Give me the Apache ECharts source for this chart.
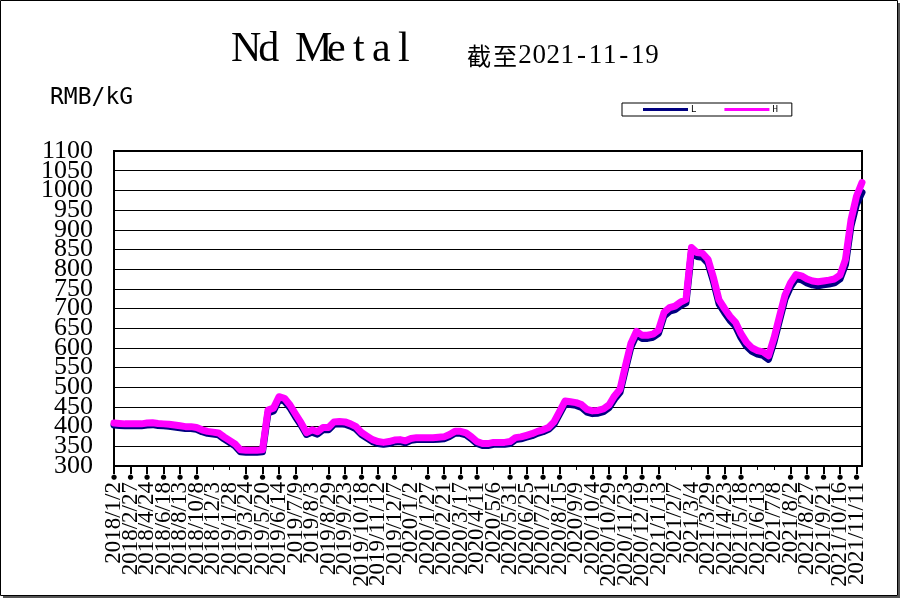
<!DOCTYPE html>
<html><head><meta charset="utf-8">
<script src="https://cdn.jsdelivr.net/npm/echarts@6/dist/echarts.min.js"></script>
<style>html,body{margin:0;padding:0;background:#fff}#c{width:901px;height:599px}</style>
</head><body><div id="c"></div>
<script>
const categories = [
'2018/1/2','2018/1/21','2018/2/8','2018/2/27','2018/3/17','2018/4/5','2018/4/24','2018/5/12','2018/5/31','2018/6/18',
'2018/7/7','2018/7/26','2018/8/13','2018/9/1','2018/9/19','2018/10/8','2018/10/27','2018/11/14','2018/12/3','2018/12/21',
'2019/1/9','2019/1/28','2019/2/15','2019/3/6','2019/3/24','2019/4/12','2019/5/6',
'2019/5/20','2019/5/28','2019/6/6','2019/6/14','2019/6/23','2019/7/1','2019/7/9','2019/7/18','2019/7/26','2019/8/3',
'2019/8/12','2019/8/20','2019/8/29','2019/9/6','2019/9/14','2019/9/23','2019/10/1','2019/10/10','2019/10/18','2019/10/26',
'2019/11/4','2019/11/12','2019/11/20','2019/11/29','2019/12/7','2019/12/16','2019/12/24','2020/1/2','2020/1/10','2020/1/18',
'2020/1/27','2020/2/4','2020/2/12','2020/2/21','2020/2/29','2020/3/8','2020/3/17','2020/3/25','2020/4/3','2020/4/11',
'2020/4/19','2020/4/28','2020/5/6','2020/5/15','2020/5/23','2020/5/31','2020/6/9','2020/6/17','2020/6/25','2020/7/4',
'2020/7/12','2020/7/21','2020/7/29','2020/8/6','2020/8/15','2020/8/23','2020/9/1','2020/9/9','2020/9/17','2020/9/26',
'2020/10/4','2020/10/12','2020/10/21','2020/10/29','2020/11/7','2020/11/15','2020/11/23','2020/12/2','2020/12/10','2020/12/19',
'2020/12/27','2021/1/4','2021/1/13','2021/1/21','2021/1/29','2021/2/7','2021/2/15','2021/2/24','2021/3/4','2021/3/12',
'2021/3/21','2021/3/29','2021/4/7','2021/4/15','2021/4/23','2021/5/2','2021/5/10','2021/5/18','2021/5/27','2021/6/4',
'2021/6/13','2021/6/21','2021/6/29','2021/7/8','2021/7/16','2021/7/25','2021/8/2','2021/8/10','2021/8/19','2021/8/27',
'2021/9/5','2021/9/13','2021/9/21','2021/9/30','2021/10/8','2021/10/16','2021/10/25','2021/11/2','2021/11/11','2021/11/19'
];
const seriesH = [
409,408,407,407,407,407,409,410,408,407,
406,404,402,400,400,398,392,388,386,384,
374,365,356,341,340,340,340,341,442,447,
476,472,455,432,410,385,392,387,398,398,
412,413,412,407,400,385,376,367,362,360,
362,366,367,364,370,372,372,372,372,373,
374,380,388,388,384,374,362,357,357,360,
360,360,362,372,374,378,382,388,392,398,
412,438,465,463,461,456,444,440,441,445,
455,478,495,555,612,642,632,632,635,645,
690,702,706,716,723,855,842,840,825,778,
722,700,680,665,636,614,600,593,590,580,
625,680,734,765,786,783,775,770,768,770,
772,775,785,825,925,985,1020
];
const seriesL = [
404,403,402,402,402,402,404,405,403,402,
401,399,397,395,395,393,387,383,381,379,
369,360,351,336,335,335,335,336,435,440,
469,465,448,425,404,380,386,381,392,392,
406,407,406,401,394,380,371,362,357,355,
357,361,362,359,365,367,367,367,367,368,
369,375,383,383,379,369,357,352,352,355,
355,355,357,367,369,373,377,383,387,393,
406,432,458,456,454,449,437,433,434,438,
448,470,487,546,603,633,624,624,627,637,
681,693,697,707,714,845,832,830,815,768,
712,690,670,655,626,604,591,584,581,571,
615,670,724,755,776,773,765,760,758,760,
762,765,775,812,910,965,995
];
const seriesNames = ['L', 'H'];
const yTickLabels = ['300','350','400','450','500','550','600','650','700','750','800','850','900','950','1000','1050','1100'];
const titleText = 'Nd Metal';
const subPrefix = '截至';
const subDate = '2021-11-19';
const unitText = 'RMB/kG';
const yMin = 300, yMax = 1100, yStep = 50;
const tickEvery = 3;
const shortTickIdx = [18,21,36,54,69,84,102,105,117,120];

const isTick = i => i % tickEvery === 0;
const isLong = i => isTick(i) && shortTickIdx.indexOf(i) < 0;
const isShort = i => isTick(i) && shortTickIdx.indexOf(i) >= 0;
const monoRich = (s, key) => s.split('').map(ch => '{' + key + '|' + ch + '}').join('');

const chart = echarts.init(document.getElementById('c'), null, {renderer:'canvas'});
chart.setOption({
  animation: false,
  backgroundColor: '#fff',
  title: [
    {text: monoRich(titleText, 'm'), left: 235, top: 29, padding: 0,
     textStyle: {fontWeight: 'normal', rich: {m: {fontFamily: 'Liberation Serif', fontWeight: 'normal', fontSize: 42, width: 22.5, align: 'center', color: '#000'}}}},
    {text: monoRich(subPrefix, 'c') + monoRich(subDate, 'n'), left: 466, top: 42, padding: 0,
     textStyle: {fontWeight: 'normal', rich: {
       c: {fontFamily: '"Noto Sans CJK JP"', fontWeight: 'normal', fontSize: 24, width: 26, align: 'center', verticalAlign: 'middle', color: '#000'},
       n: {fontFamily: 'Liberation Serif', fontWeight: 'normal', fontSize: 27, width: 14.1, align: 'center', verticalAlign: 'middle', color: '#000'}}}},
    {text: unitText, left: 50, top: 87, padding: 0,
     textStyle: {fontFamily: 'DejaVu Sans Mono', fontSize: 23, fontWeight: 'normal', color: '#000'}}
  ],
  legend: {
    data: seriesNames, left: 622, top: 103, orient: 'horizontal',
    icon: 'rect', itemWidth: 45, itemHeight: 3, itemGap: 28,
    padding: [2, 14, 2, 21], borderColor: '#000', borderWidth: 1, backgroundColor: '#fff',
    textStyle: {fontFamily: 'DejaVu Sans Mono', fontSize: 9, color: '#000', padding: [0,0,0,-2]}
  },
  grid: {left: 114, right: 39, top: 151, bottom: 133, show: true, borderColor: '#000', borderWidth: 2, backgroundColor: '#fff'},
  xAxis: [
    {type: 'category', data: categories, boundaryGap: false,
     axisLine: {lineStyle: {color: '#000', width: 2}},
     axisTick: {show: true, interval: (i) => isLong(i), length: 8, lineStyle: {color: '#000', width: 2}},
     axisLabel: {interval: 0, rotate: 90, margin: 16, hideOverlap: false,
       fontFamily: 'Liberation Serif', fontSize: 23, color: '#000',
       formatter: (v, i) => isTick(i) ? v : ''},
     splitLine: {show: false}},
    {type: 'category', data: categories, boundaryGap: false, position: 'bottom',
     axisLine: {show: false},
     axisTick: {show: true, interval: (i) => isShort(i), length: 4, lineStyle: {color: '#000', width: 1}},
     axisLabel: {interval: 0, margin: 8, hideOverlap: false, fontFamily: 'DejaVu Sans', fontSize: 7, color: '#000',
       formatter: (v, i) => isLong(i) ? '●' : ''},
     splitLine: {show: false}}
  ],
  yAxis: [
    {type: 'value', min: yMin, max: yMax, interval: yStep,
     axisLine: {show: true, lineStyle: {color: '#000', width: 2}},
     axisTick: {show: false},
     axisLabel: {show: false},
     splitLine: {show: true, lineStyle: {color: '#000', width: 1}}},
    {type: 'category', data: yTickLabels, boundaryGap: false, position: 'left',
     axisLine: {show: false}, axisTick: {show: false}, splitLine: {show: false},
     axisLabel: {interval: 0, hideOverlap: false, fontFamily: 'Liberation Serif', fontSize: 26, color: '#000', margin: 21}}
  ],
  series: [
    {name: seriesNames[0], type: 'line', data: seriesL, xAxisIndex: 0, yAxisIndex: 0, showSymbol: false, symbol: 'none',
     lineStyle: {color: '#000080', width: 7, cap: 'round', join: 'round'}, itemStyle: {color: '#000080'}},
    {name: seriesNames[1], type: 'line', data: seriesH, xAxisIndex: 0, yAxisIndex: 0, showSymbol: false, symbol: 'none',
     lineStyle: {color: '#FF00FF', width: 7, cap: 'round', join: 'round'}, itemStyle: {color: '#FF00FF'}}
  ],
  graphic: [
    {type: 'rect', silent: true, z: 100, shape: {x: 0.5, y: 0.5, width: 897, height: 595},
     style: {fill: null, stroke: '#000', lineWidth: 1}},
    {type: 'rect', silent: true, z: 100, shape: {x: 898, y: 3, width: 2, height: 595}, style: {fill: '#555'}},
    {type: 'rect', silent: true, z: 100, shape: {x: 3, y: 596, width: 897, height: 2}, style: {fill: '#555'}}
  ]
});
</script></body></html>
